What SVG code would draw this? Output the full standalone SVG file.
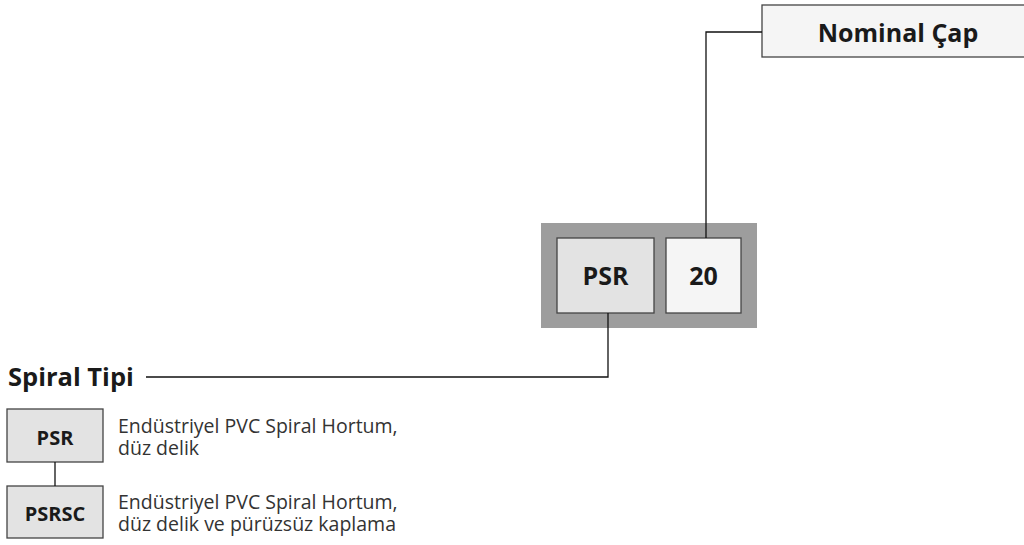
<svg xmlns="http://www.w3.org/2000/svg" width="1024" height="545" viewBox="0 0 1024 545">
<style>
.b{font-family:"Open Sans","DejaVu Sans",sans-serif;font-weight:bold;fill:#1a1a1a}
.r{font-family:"Open Sans","DejaVu Sans",sans-serif;fill:#333;font-size:19.5px}
.bx{stroke:#444;stroke-width:1.3}
.ln{fill:none;stroke:#111;stroke-width:1.3}
</style>
<rect width="1024" height="545" fill="#fff"/>
<g id="code-frame">
<rect x="541" y="223" width="216" height="105" fill="#9d9d9d"/>
</g>
<g id="node-psr">
<rect class="bx" x="557" y="238" width="97" height="75" fill="#e3e3e3"/>
<text class="b" x="605.5" y="285" font-size="25" text-anchor="middle">PSR</text>
</g>
<g id="node-20">
<rect class="bx" x="666" y="238" width="75" height="75" fill="#f5f5f5"/>
<text class="b" x="703.5" y="285" font-size="25" text-anchor="middle">20</text>
</g>
<g id="node-nominal">
<rect class="bx" x="762" y="5" width="270" height="52" fill="#f5f5f5"/>
<text class="b" x="898" y="42" font-size="25" text-anchor="middle">Nominal Çap</text>
</g>
<g id="node-spiral">
<text class="b" x="8" y="386" font-size="25.5">Spiral Tipi</text>
</g>
<g id="opt-psr">
<rect class="bx" x="7" y="409" width="96" height="53" fill="#e3e3e3"/>
<text class="b" x="55" y="445" font-size="20" text-anchor="middle">PSR</text>
<text class="r" x="118" y="433">Endüstriyel PVC Spiral Hortum,<tspan x="118" dy="22">düz delik</tspan></text>
</g>
<g id="opt-psrsc">
<rect class="bx" x="7" y="486" width="96" height="52" fill="#e3e3e3"/>
<text class="b" x="55" y="521" font-size="20" text-anchor="middle">PSRSC</text>
<text class="r" x="118" y="509">Endüstriyel PVC Spiral Hortum,<tspan x="118" dy="22">düz delik ve pürüzsüz kaplama</tspan></text>
</g>
<g id="connectors">
<polyline class="ln" points="706,238 706,32 762,32"/>
<polyline class="ln" points="608,313 608,377 146,377"/>
<line class="ln" x1="55" y1="462" x2="55" y2="486"/>
</g>
</svg>
